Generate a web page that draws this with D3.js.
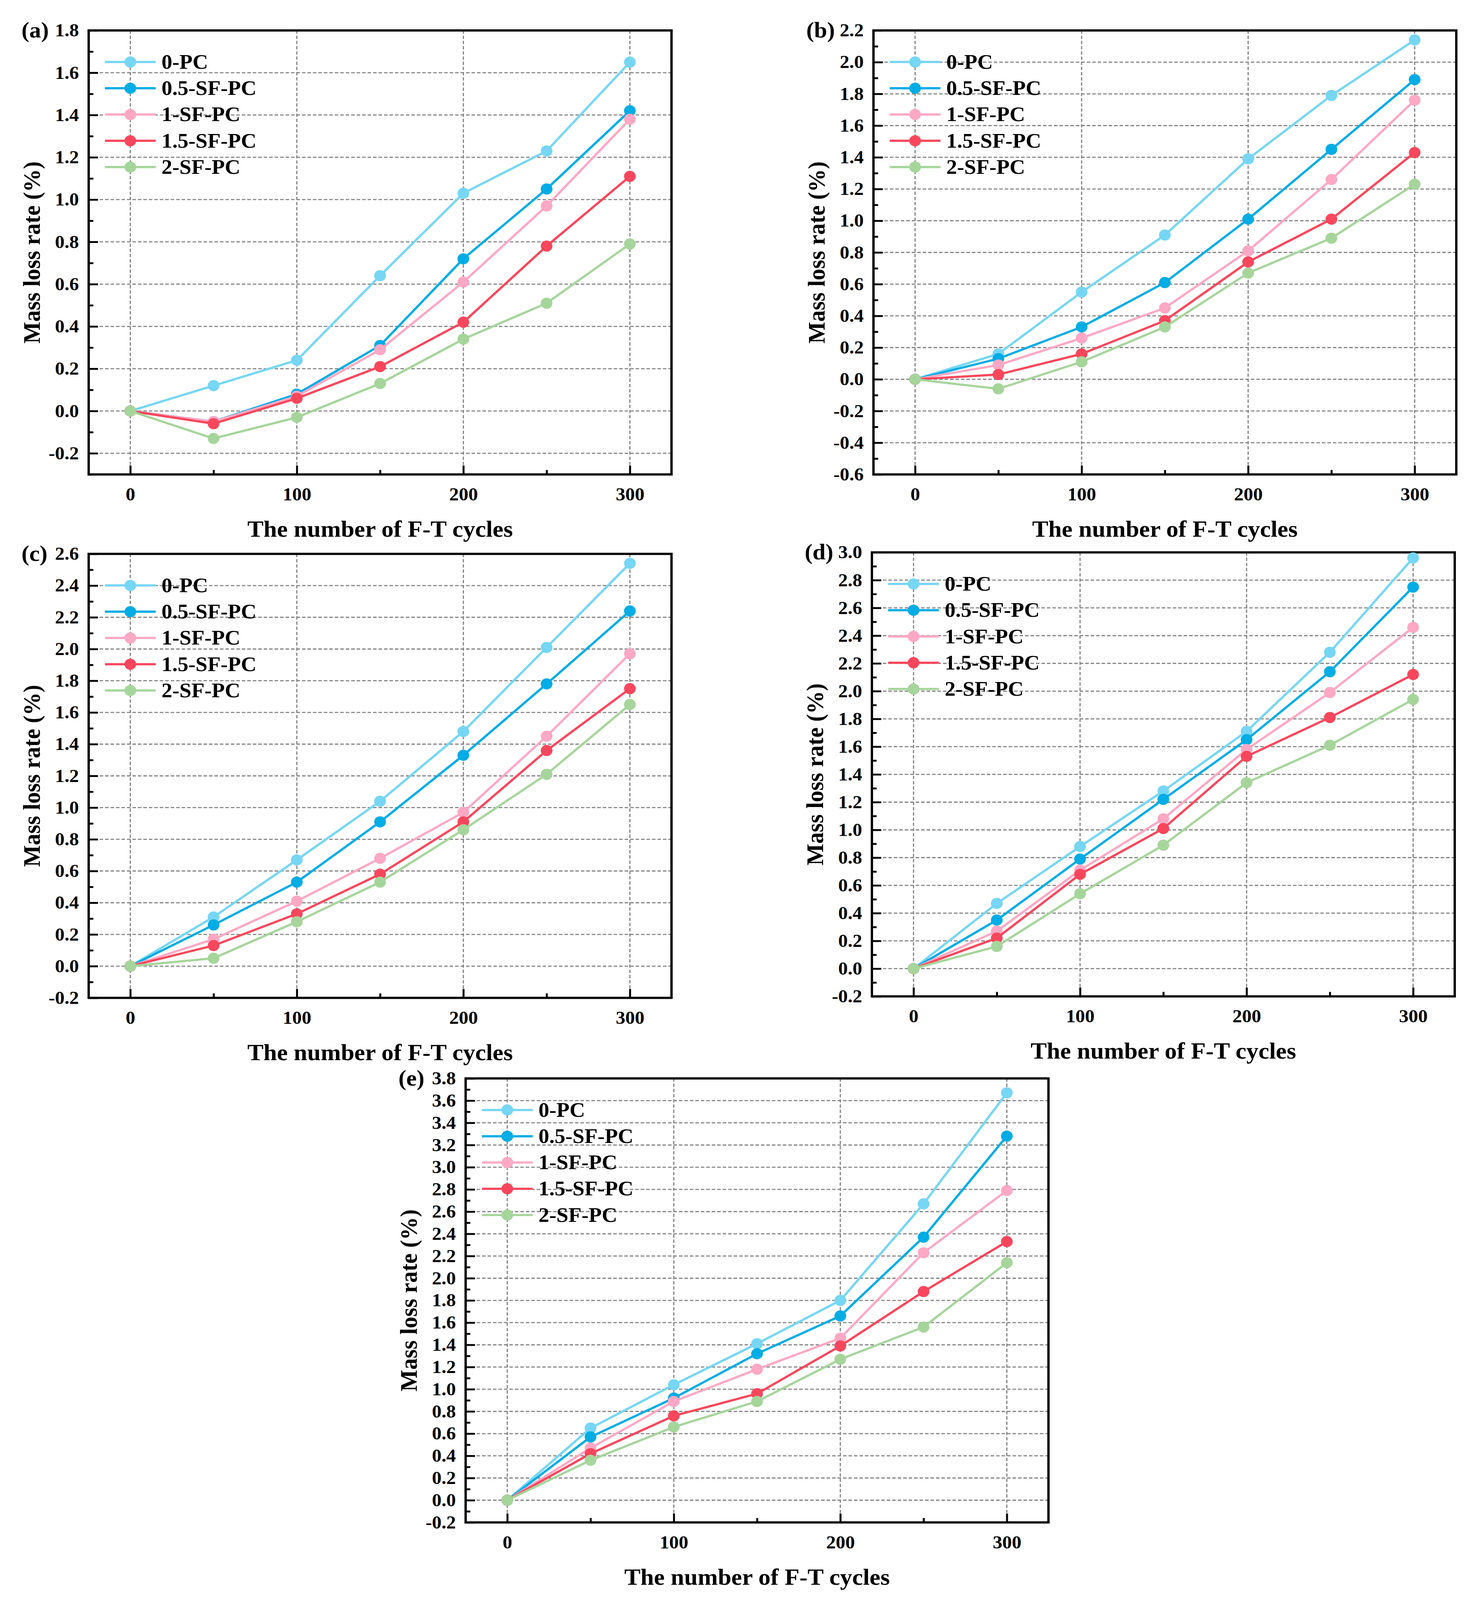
<!DOCTYPE html>
<html>
<head>
<meta charset="utf-8">
<script src="https://d3js.org/d3.v7.min.js"></script>
<style>
html, body { margin: 0; padding: 0; background: #fff; overflow: hidden; }
#chart { display: block; width: 100vw; height: 100vh; }
svg text { font-family: "Liberation Serif", "Times New Roman", serif; font-weight: bold; fill: #000; }
</style>
</head>
<body>
<!-- drawn in a 3781x4310 frame, stretched to whatever the viewport really is -->
<svg id="chart" viewBox="0 0 3781 4310" preserveAspectRatio="none"></svg>
<script>
// ---- data ----
var cycles = [0, 50, 100, 150, 200, 250, 300];
var seriesNames = ["0-PC", "0.5-SF-PC", "1-SF-PC", "1.5-SF-PC", "2-SF-PC"];
var xTicks = [0, 100, 200, 300];
var xMinorTicks = [50, 150, 250];

var lossA = [
	[0, 0.12, 0.24, 0.64, 1.03, 1.23, 1.65],
	[0, -0.05, 0.08, 0.31, 0.72, 1.05, 1.42],
	[0, -0.05, 0.07, 0.29, 0.61, 0.97, 1.38],
	[0, -0.06, 0.06, 0.21, 0.42, 0.78, 1.11],
	[0, -0.13, -0.03, 0.13, 0.34, 0.51, 0.79]
];
var lossB = [
	[0, 0.16, 0.55, 0.91, 1.39, 1.79, 2.14],
	[0, 0.13, 0.33, 0.61, 1.01, 1.45, 1.89],
	[0, 0.09, 0.26, 0.45, 0.81, 1.26, 1.76],
	[0, 0.03, 0.16, 0.37, 0.74, 1.01, 1.43],
	[0, -0.06, 0.11, 0.33, 0.67, 0.89, 1.23]
];
var lossC = [
	[0, 0.31, 0.67, 1.04, 1.48, 2.01, 2.54],
	[0, 0.26, 0.53, 0.91, 1.33, 1.78, 2.24],
	[0, 0.17, 0.41, 0.68, 0.97, 1.45, 1.97],
	[0, 0.13, 0.33, 0.58, 0.91, 1.36, 1.75],
	[0, 0.05, 0.28, 0.53, 0.86, 1.21, 1.65]
];
var lossD = [
	[0, 0.47, 0.88, 1.28, 1.71, 2.28, 2.96],
	[0, 0.35, 0.79, 1.22, 1.65, 2.14, 2.75],
	[0, 0.27, 0.71, 1.08, 1.58, 1.99, 2.46],
	[0, 0.22, 0.68, 1.01, 1.53, 1.81, 2.12],
	[0, 0.16, 0.54, 0.89, 1.34, 1.61, 1.94]
];
var lossE = [
	[0, 0.65, 1.04, 1.41, 1.80, 2.67, 3.67],
	[0, 0.57, 0.92, 1.32, 1.66, 2.37, 3.28],
	[0, 0.47, 0.89, 1.18, 1.46, 2.23, 2.79],
	[0, 0.42, 0.76, 0.96, 1.39, 1.88, 2.33],
	[0, 0.36, 0.66, 0.89, 1.27, 1.56, 2.14]
];

var yTicksA = [-0.2, 0.0, 0.2, 0.4, 0.6, 0.8, 1.0, 1.2, 1.4, 1.6, 1.8];
var yTicksB = [-0.6, -0.4, -0.2, 0.0, 0.2, 0.4, 0.6, 0.8, 1.0, 1.2, 1.4, 1.6, 1.8, 2.0, 2.2];
var yTicksC = [-0.2, 0.0, 0.2, 0.4, 0.6, 0.8, 1.0, 1.2, 1.4, 1.6, 1.8, 2.0, 2.2, 2.4, 2.6];
var yTicksD = [-0.2, 0.0, 0.2, 0.4, 0.6, 0.8, 1.0, 1.2, 1.4, 1.6, 1.8, 2.0, 2.2, 2.4, 2.6, 2.8, 3.0];
var yTicksE = [-0.2, 0.0, 0.2, 0.4, 0.6, 0.8, 1.0, 1.2, 1.4, 1.6, 1.8, 2.0, 2.2, 2.4, 2.6, 2.8, 3.0, 3.2, 3.4, 3.6, 3.8];

// ---- styles and layout ----
var seriesColors = ["#76d6f4", "#02ace4", "#fda8c5", "#f8475c", "#a6d59b"];
var W = 1492, H = 1196;
var font = '"Liberation Serif", "Times New Roman", serif';

var panels = [
	{label: "(a)", loss: lossA, yTicks: yTicksA, yDomain: [-0.3, 1.8], left: 227, top: 82},
	{label: "(b)", loss: lossB, yTicks: yTicksB, yDomain: [-0.6, 2.2], left: 2236, top: 82},
	{label: "(c)", loss: lossC, yTicks: yTicksC, yDomain: [-0.2, 2.6], left: 227, top: 1492},
	{label: "(d)", loss: lossD, yTicks: yTicksD, yDomain: [-0.2, 3.0], left: 2232, top: 1488},
	{label: "(e)", loss: lossE, yTicks: yTicksE, yDomain: [-0.2, 3.8], left: 1192, top: 2905}
];

var svg = d3.select("#chart");
svg.append("rect").attr("width", 3781).attr("height", 4310).attr("fill", "#fff");

panels.forEach(drawPanel);

function minorTicks( major, domain )
{
	// one minor tick half way between the major ones
	var step = major[1] - major[0];
	var out = [];
	for(var i in major)
	{
		var v = Math.round((major[i] + step / 2) * 100) / 100;
		if(v <= domain[1] + 1e-9) out.push(v);
	}
	var first = Math.round((major[0] - step / 2) * 100) / 100;
	if(first >= domain[0] - 1e-9) out.push(first);
	return out;
}

function styleAxis( sel, size )
{
	sel.attr("font-family", font).attr("font-size", size).attr("font-weight", "bold");
	sel.select(".domain").remove();
	sel.selectAll(".tick line").attr("stroke", "#000").attr("stroke-width", 5);
	sel.selectAll(".tick text").attr("fill", "#000");
}

function drawPanel( p )
{
	var g = svg.append("g").attr("transform", "translate(" + p.left + "," + p.top + ")");

	var x = d3.scaleLinear().domain([-25, 325]).range([0, W]);
	var y = d3.scaleLinear().domain(p.yDomain).range([H, 0]);

	// dashed grid
	var grid = g.append("g")
		.attr("stroke", "#828282")
		.attr("stroke-width", 3)
		.attr("stroke-dasharray", "9,5");
	grid.selectAll("line.h")
		.data(p.yTicks)
		.enter()
		.append("line")
		.attr("class", "h")
		.attr("x1", 0).attr("x2", W)
		.attr("y1", function(d) { return y(d); })
		.attr("y2", function(d) { return y(d); });
	grid.selectAll("line.v")
		.data(xTicks)
		.enter()
		.append("line")
		.attr("class", "v")
		.attr("y1", 0).attr("y2", H)
		.attr("x1", function(d) { return x(d); })
		.attr("x2", function(d) { return x(d); });

	// axes, ticks point inwards
	var yAxis = d3.axisLeft(y)
		.tickValues(p.yTicks)
		.tickSize(-24)
		.tickPadding(25)
		.tickFormat(function(d) { return d.toFixed(1); });
	g.append("g").call(yAxis).call(styleAxis, 49);

	var yMinor = d3.axisLeft(y)
		.tickValues(minorTicks(p.yTicks, p.yDomain))
		.tickSize(-12)
		.tickFormat("");
	g.append("g").call(yMinor).call(styleAxis, 49);

	var xAxis = d3.axisBottom(x)
		.tickValues(xTicks)
		.tickSize(-24)
		.tickPadding(35)
		.tickFormat(d3.format("d"));
	g.append("g").attr("transform", "translate(0," + H + ")").call(xAxis).call(styleAxis, 49);

	var xMinor = d3.axisBottom(x)
		.tickValues(xMinorTicks)
		.tickSize(-12)
		.tickFormat("");
	g.append("g").attr("transform", "translate(0," + H + ")").call(xMinor).call(styleAxis, 49);

	g.append("rect")
		.attr("width", W).attr("height", H)
		.attr("fill", "none")
		.attr("stroke", "#000")
		.attr("stroke-width", 6);

	// series
	var line = d3.line()
		.x(function(d) { return x(d[0]); })
		.y(function(d) { return y(d[1]); });

	for(var i = 0; i < p.loss.length; i++)
	{
		var pts = cycles.map(function(c, j) { return [c, p.loss[i][j]]; });
		var s = g.append("g");
		s.append("path")
			.datum(pts)
			.attr("d", line)
			.attr("fill", "none")
			.attr("stroke", seriesColors[i])
			.attr("stroke-width", 6)
			.attr("stroke-linejoin", "round");
		s.selectAll("circle")
			.data(pts)
			.enter()
			.append("circle")
			.attr("cx", function(d) { return x(d[0]); })
			.attr("cy", function(d) { return y(d[1]); })
			.attr("r", 15)
			.attr("fill", seriesColors[i]);
	}

	// legend
	var lx = x(0);
	var legend = g.append("g");
	seriesNames.forEach(function(name, i) {
		var ly = 85 + i * 70.75;
		legend.append("line")
			.attr("x1", lx - 65).attr("x2", lx + 65)
			.attr("y1", ly).attr("y2", ly)
			.attr("stroke", seriesColors[i])
			.attr("stroke-width", 6);
		legend.append("circle")
			.attr("cx", lx).attr("cy", ly).attr("r", 15)
			.attr("fill", seriesColors[i]);
		legend.append("text")
			.attr("x", lx + 80).attr("y", ly)
			.attr("dy", "0.33em")
			.attr("font-size", 55)
			.text(name);
	});

	// titles
	g.append("text")
		.attr("x", W / 2).attr("y", H + 168)
		.attr("text-anchor", "middle")
		.attr("font-size", 62)
		.text("The number of F-T cycles");

	g.append("text")
		.attr("transform", "translate(-125," + (H / 2) + ") rotate(-90)")
		.attr("text-anchor", "middle")
		.attr("font-size", 62)
		.text("Mass loss rate (%)");

	g.append("text")
		.attr("x", -172).attr("y", 19)
		.attr("font-size", 60)
		.text(p.label);
}
</script>
</body>
</html>
